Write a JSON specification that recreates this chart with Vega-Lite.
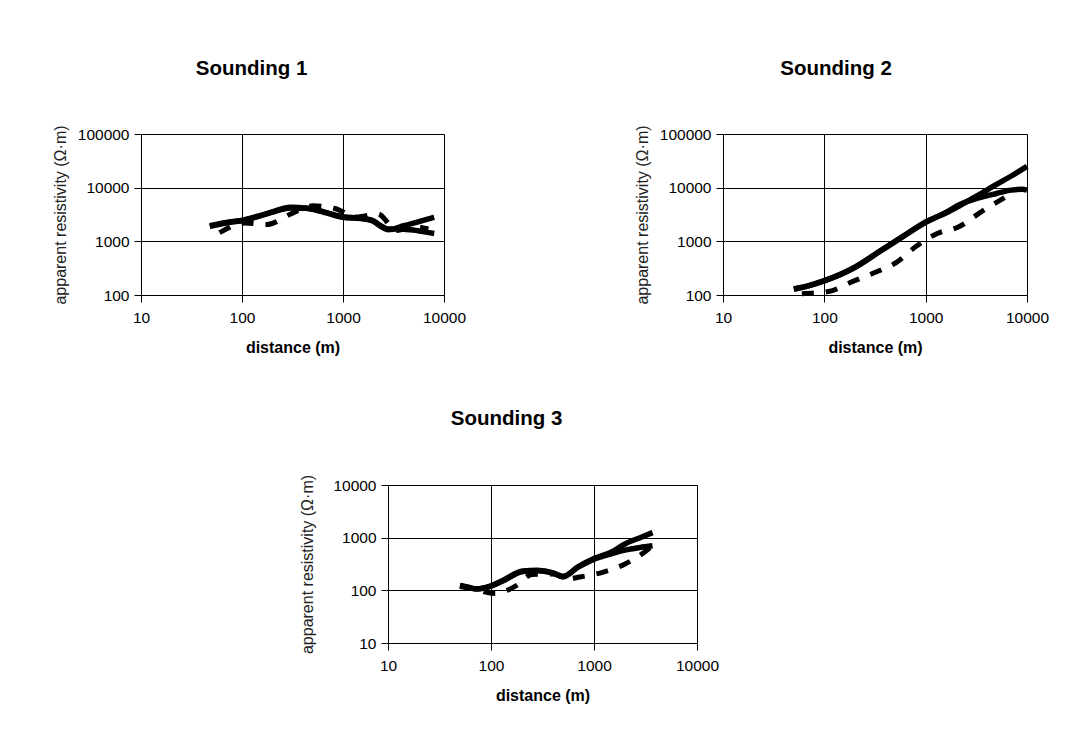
{
  "$schema": "https://vega.github.io/schema/vega-lite/v6.json",
  "background": "white",
  "padding": {"left": 52, "top": 59, "right": 5, "bottom": 5},
  "bounds": "flush",
  "spacing": 351,
  "datasets": {
    "s1": [
      {"series": "model 1", "distance": 48, "resistivity": 1950},
      {"series": "model 1", "distance": 70, "resistivity": 2250},
      {"series": "model 1", "distance": 100, "resistivity": 2450},
      {"series": "model 1", "distance": 140, "resistivity": 2900},
      {"series": "model 1", "distance": 200, "resistivity": 3550},
      {"series": "model 1", "distance": 300, "resistivity": 4300},
      {"series": "model 1", "distance": 450, "resistivity": 4100},
      {"series": "model 1", "distance": 700, "resistivity": 3350},
      {"series": "model 1", "distance": 1000, "resistivity": 2800},
      {"series": "model 1", "distance": 1500, "resistivity": 2650},
      {"series": "model 1", "distance": 1900, "resistivity": 2450},
      {"series": "model 1", "distance": 2800, "resistivity": 1650},
      {"series": "model 1", "distance": 4000, "resistivity": 1950},
      {"series": "model 1", "distance": 6000, "resistivity": 2400},
      {"series": "model 1", "distance": 8000, "resistivity": 2800},
      {"series": "model 2", "distance": 48, "resistivity": 1900},
      {"series": "model 2", "distance": 70, "resistivity": 2200},
      {"series": "model 2", "distance": 100, "resistivity": 2450},
      {"series": "model 2", "distance": 140, "resistivity": 2850},
      {"series": "model 2", "distance": 200, "resistivity": 3500},
      {"series": "model 2", "distance": 300, "resistivity": 4200},
      {"series": "model 2", "distance": 450, "resistivity": 4150},
      {"series": "model 2", "distance": 700, "resistivity": 3400},
      {"series": "model 2", "distance": 1000, "resistivity": 2850},
      {"series": "model 2", "distance": 1500, "resistivity": 2700},
      {"series": "model 2", "distance": 1900, "resistivity": 2500},
      {"series": "model 2", "distance": 2800, "resistivity": 1700},
      {"series": "model 2", "distance": 4000, "resistivity": 1680},
      {"series": "model 2", "distance": 5500, "resistivity": 1580},
      {"series": "model 2", "distance": 8000, "resistivity": 1400},
      {"series": "measured", "distance": 60, "resistivity": 1450},
      {"series": "measured", "distance": 107, "resistivity": 2200},
      {"series": "measured", "distance": 176, "resistivity": 2050},
      {"series": "measured", "distance": 300, "resistivity": 3200},
      {"series": "measured", "distance": 505, "resistivity": 4600},
      {"series": "measured", "distance": 830, "resistivity": 4100},
      {"series": "measured", "distance": 1370, "resistivity": 2850},
      {"series": "measured", "distance": 2200, "resistivity": 3250},
      {"series": "measured", "distance": 3400, "resistivity": 1600},
      {"series": "measured", "distance": 5400, "resistivity": 1850},
      {"series": "measured", "distance": 7000, "resistivity": 1700}
    ],
    "s2": [
      {"series": "model 1", "distance": 50, "resistivity": 130},
      {"series": "model 1", "distance": 70, "resistivity": 150},
      {"series": "model 1", "distance": 100, "resistivity": 185},
      {"series": "model 1", "distance": 200, "resistivity": 330},
      {"series": "model 1", "distance": 350, "resistivity": 650},
      {"series": "model 1", "distance": 600, "resistivity": 1250},
      {"series": "model 1", "distance": 1000, "resistivity": 2300},
      {"series": "model 1", "distance": 1600, "resistivity": 3400},
      {"series": "model 1", "distance": 2200, "resistivity": 4700},
      {"series": "model 1", "distance": 3200, "resistivity": 7000},
      {"series": "model 1", "distance": 5000, "resistivity": 11500},
      {"series": "model 1", "distance": 7000, "resistivity": 16500},
      {"series": "model 1", "distance": 10000, "resistivity": 25000},
      {"series": "model 2", "distance": 50, "resistivity": 128},
      {"series": "model 2", "distance": 70, "resistivity": 148},
      {"series": "model 2", "distance": 100, "resistivity": 183},
      {"series": "model 2", "distance": 200, "resistivity": 325},
      {"series": "model 2", "distance": 350, "resistivity": 640},
      {"series": "model 2", "distance": 600, "resistivity": 1230},
      {"series": "model 2", "distance": 1000, "resistivity": 2250},
      {"series": "model 2", "distance": 1600, "resistivity": 3500},
      {"series": "model 2", "distance": 2200, "resistivity": 4900},
      {"series": "model 2", "distance": 3200, "resistivity": 6300},
      {"series": "model 2", "distance": 5000, "resistivity": 7800},
      {"series": "model 2", "distance": 7000, "resistivity": 9000},
      {"series": "model 2", "distance": 9000, "resistivity": 9300},
      {"series": "model 2", "distance": 10000, "resistivity": 9000},
      {"series": "measured", "distance": 60, "resistivity": 106},
      {"series": "measured", "distance": 110, "resistivity": 116},
      {"series": "measured", "distance": 180, "resistivity": 171},
      {"series": "measured", "distance": 320, "resistivity": 265},
      {"series": "measured", "distance": 520, "resistivity": 410},
      {"series": "measured", "distance": 800, "resistivity": 800},
      {"series": "measured", "distance": 1300, "resistivity": 1400},
      {"series": "measured", "distance": 2100, "resistivity": 1850},
      {"series": "measured", "distance": 3500, "resistivity": 3500},
      {"series": "measured", "distance": 6000, "resistivity": 6500}
    ],
    "s3": [
      {"series": "model 1", "distance": 50, "resistivity": 124},
      {"series": "model 1", "distance": 60, "resistivity": 115},
      {"series": "model 1", "distance": 72, "resistivity": 107},
      {"series": "model 1", "distance": 100, "resistivity": 122},
      {"series": "model 1", "distance": 130, "resistivity": 154},
      {"series": "model 1", "distance": 204, "resistivity": 233},
      {"series": "model 1", "distance": 280, "resistivity": 240},
      {"series": "model 1", "distance": 400, "resistivity": 215},
      {"series": "model 1", "distance": 500, "resistivity": 180},
      {"series": "model 1", "distance": 700, "resistivity": 280},
      {"series": "model 1", "distance": 1000, "resistivity": 400},
      {"series": "model 1", "distance": 1500, "resistivity": 540},
      {"series": "model 1", "distance": 2000, "resistivity": 760},
      {"series": "model 1", "distance": 2800, "resistivity": 1000},
      {"series": "model 1", "distance": 3700, "resistivity": 1250},
      {"series": "model 2", "distance": 50, "resistivity": 122},
      {"series": "model 2", "distance": 60, "resistivity": 114},
      {"series": "model 2", "distance": 72, "resistivity": 106},
      {"series": "model 2", "distance": 100, "resistivity": 120},
      {"series": "model 2", "distance": 130, "resistivity": 150},
      {"series": "model 2", "distance": 204, "resistivity": 228},
      {"series": "model 2", "distance": 280, "resistivity": 236},
      {"series": "model 2", "distance": 400, "resistivity": 212},
      {"series": "model 2", "distance": 500, "resistivity": 185},
      {"series": "model 2", "distance": 700, "resistivity": 275},
      {"series": "model 2", "distance": 1000, "resistivity": 390},
      {"series": "model 2", "distance": 1500, "resistivity": 500},
      {"series": "model 2", "distance": 2000, "resistivity": 580},
      {"series": "model 2", "distance": 2800, "resistivity": 650},
      {"series": "model 2", "distance": 3700, "resistivity": 700},
      {"series": "measured", "distance": 50, "resistivity": 118},
      {"series": "measured", "distance": 60, "resistivity": 112},
      {"series": "measured", "distance": 110, "resistivity": 87},
      {"series": "measured", "distance": 176, "resistivity": 123},
      {"series": "measured", "distance": 250, "resistivity": 200},
      {"series": "measured", "distance": 400, "resistivity": 205},
      {"series": "measured", "distance": 550, "resistivity": 165},
      {"series": "measured", "distance": 725, "resistivity": 179},
      {"series": "measured", "distance": 1230, "resistivity": 222},
      {"series": "measured", "distance": 2000, "resistivity": 316},
      {"series": "measured", "distance": 3100, "resistivity": 535},
      {"series": "measured", "distance": 3500, "resistivity": 650}
    ]
  },
  "config": {
    "font": "Liberation Sans",
    "view": {"stroke": null},
    "axis": {
      "domainColor": "black", "domainWidth": 1,
      "gridColor": "black", "gridOpacity": 1, "gridWidth": 1,
      "tickColor": "black", "tickSize": 7,
      "labelColor": "black", "labelFont": "Liberation Sans", "labelFontSize": 15.5,
      "titleFont": "Liberation Sans", "titleFontSize": 16, "titleColor": "black"
    },
    "axisX": {"labelPadding": 8, "titlePadding": 14, "titleFontWeight": "bold", "labelFlush": false},
    "axisY": {"labelPadding": 5, "titlePadding": 9, "titleFontWeight": "normal", "titleColor": "#222", "minExtent": 64, "maxExtent": 64},
    "title": {"font": "Liberation Sans", "fontSize": 20.5, "fontWeight": "bold", "color": "black", "anchor": "middle", "frame": "group", "offset": 45}
  },
  "vconcat": [
    {
      "bounds": "flush",
      "spacing": 279,
      "hconcat": [
        {
          "title": {"text": "Sounding 1", "dx": -41},
          "width": 303, "height": 161,
          "data": {"name": "s1"},
          "layer": [
            {
              "transform": [{"filter": "datum.series === 'measured'"}],
              "mark": {"type": "line", "color": "black", "strokeWidth": 5, "strokeDash": [12, 12], "interpolate": "monotone"},
              "encoding": {
                "x": {"field": "distance", "type": "quantitative", "scale": {"type": "log", "domain": [10, 10000]}, "axis": {"values": [10, 100, 1000, 10000], "format": "d", "title": "distance (m)"}},
                "y": {"field": "resistivity", "type": "quantitative", "scale": {"type": "log", "domain": [100, 100000]}, "axis": {"values": [100, 1000, 10000, 100000], "format": "d", "title": "apparent resistivity (Ω·m)"}}
              }
            },
            {
              "transform": [{"filter": "datum.series !== 'measured'"}],
              "mark": {"type": "line", "color": "black", "strokeWidth": 5.5, "interpolate": "monotone"},
              "encoding": {
                "x": {"field": "distance", "type": "quantitative"},
                "y": {"field": "resistivity", "type": "quantitative"},
                "detail": {"field": "series"}
              }
            }
          ]
        },
        {
          "title": {"text": "Sounding 2", "dx": -39},
          "width": 304, "height": 161,
          "data": {"name": "s2"},
          "layer": [
            {
              "transform": [{"filter": "datum.series === 'measured'"}],
              "mark": {"type": "line", "color": "black", "strokeWidth": 5, "strokeDash": [12, 12], "interpolate": "monotone"},
              "encoding": {
                "x": {"field": "distance", "type": "quantitative", "scale": {"type": "log", "domain": [10, 10000]}, "axis": {"values": [10, 100, 1000, 10000], "format": "d", "title": "distance (m)"}},
                "y": {"field": "resistivity", "type": "quantitative", "scale": {"type": "log", "domain": [100, 100000]}, "axis": {"values": [100, 1000, 10000, 100000], "format": "d", "title": "apparent resistivity (Ω·m)"}}
              }
            },
            {
              "transform": [{"filter": "datum.series !== 'measured'"}],
              "mark": {"type": "line", "color": "black", "strokeWidth": 5.5, "interpolate": "monotone"},
              "encoding": {
                "x": {"field": "distance", "type": "quantitative"},
                "y": {"field": "resistivity", "type": "quantitative"},
                "detail": {"field": "series"}
              }
            }
          ]
        }
      ]
    },
    {
      "bounds": "flush",
      "spacing": 10,
      "hconcat": [
        {
          "width": 237, "height": 158,
          "data": {"values": []},
          "mark": "point",
          "encoding": {}
        },
        {
          "title": {"text": "Sounding 3", "dx": -36},
          "width": 309, "height": 158,
          "data": {"name": "s3"},
          "layer": [
            {
              "transform": [{"filter": "datum.series === 'measured'"}],
              "mark": {"type": "line", "color": "black", "strokeWidth": 5, "strokeDash": [12, 12], "interpolate": "monotone"},
              "encoding": {
                "x": {"field": "distance", "type": "quantitative", "scale": {"type": "log", "domain": [10, 10000]}, "axis": {"values": [10, 100, 1000, 10000], "format": "d", "title": "distance (m)"}},
                "y": {"field": "resistivity", "type": "quantitative", "scale": {"type": "log", "domain": [10, 10000]}, "axis": {"values": [10, 100, 1000, 10000], "format": "d", "title": "apparent resistivity (Ω·m)"}}
              }
            },
            {
              "transform": [{"filter": "datum.series !== 'measured'"}],
              "mark": {"type": "line", "color": "black", "strokeWidth": 5.5, "interpolate": "monotone"},
              "encoding": {
                "x": {"field": "distance", "type": "quantitative"},
                "y": {"field": "resistivity", "type": "quantitative"},
                "detail": {"field": "series"}
              }
            }
          ]
        }
      ]
    }
  ]
}
